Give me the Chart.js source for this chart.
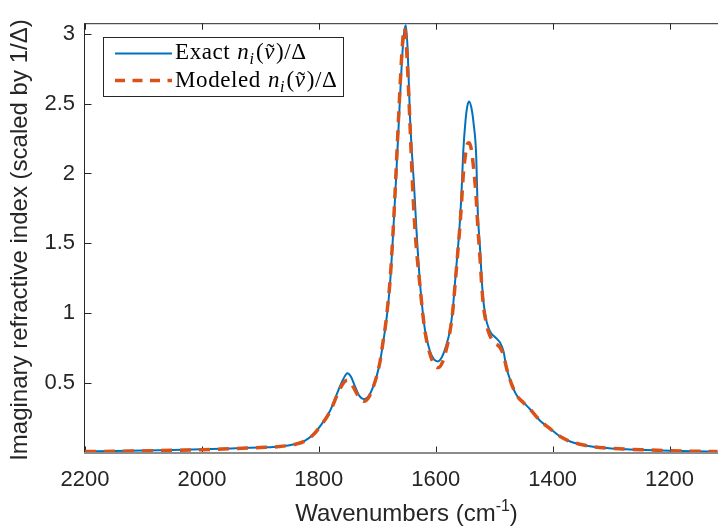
<!DOCTYPE html>
<html>
<head>
<meta charset="utf-8">
<script src="https://cdn.jsdelivr.net/npm/chart.js@4"></script>
<style>
  html, body { margin: 0; padding: 0; background: #fff; overflow: hidden; }
  #wrap { width: 718px; height: 531px; overflow: hidden; }
</style>
</head>
<body>
<div id="wrap"><canvas id="chart" width="740" height="531"></canvas></div>
<script>
// Wavenumbers (cm^-1)
const wavenumbers = [2200, 2150, 2100, 2050, 2000, 1950, 1900, 1867, 1840, 1825, 1810, 1798, 1781, 1767, 1758, 1751, 1745, 1737, 1730, 1723,
    1715, 1708, 1701, 1695, 1690, 1686, 1682, 1678, 1673, 1668, 1663, 1657, 1654, 1651, 1648, 1644, 1640, 1637, 1633, 1627,
    1622, 1618, 1610, 1603, 1596, 1589, 1582, 1576, 1571, 1567, 1563, 1560, 1556, 1553, 1549, 1546, 1543, 1539, 1535, 1531,
    1528, 1524, 1521, 1518, 1514, 1510, 1505, 1500, 1495, 1490, 1484, 1479, 1474, 1470, 1461, 1450, 1439, 1422, 1404, 1387,
    1370, 1353, 1331, 1300, 1273, 1240, 1200, 1160, 1118];

// Exact n_i / Delta
const exactValues = [0.012, 0.014, 0.017, 0.021, 0.026, 0.033, 0.040, 0.047, 0.065, 0.085, 0.13, 0.19, 0.30, 0.445, 0.53, 0.57, 0.545, 0.465, 0.405, 0.385,
    0.405, 0.465, 0.55, 0.66, 0.79, 0.90, 1.04, 1.22, 1.56, 1.95, 2.38, 2.86, 3.01, 3.06, 2.88, 2.40, 2.10, 1.91, 1.60, 1.22,
    1.00, 0.87, 0.73, 0.67, 0.655, 0.69, 0.77, 0.87, 1.02, 1.22, 1.42, 1.57, 1.85, 2.15, 2.38, 2.48, 2.515, 2.47, 2.35, 2.15,
    1.72, 1.45, 1.22, 1.07, 0.96, 0.90, 0.855, 0.835, 0.815, 0.79, 0.727, 0.61, 0.54, 0.49, 0.41, 0.362, 0.315, 0.233, 0.174, 0.118,
    0.082, 0.062, 0.044, 0.033, 0.026, 0.021, 0.016, 0.012, 0.009];

// Modeled n_i / Delta
const modeledValues = [0.010, 0.012, 0.015, 0.019, 0.024, 0.031, 0.039, 0.046, 0.063, 0.083, 0.128, 0.188, 0.295, 0.43, 0.50, 0.52, 0.50, 0.44, 0.39, 0.37,
    0.395, 0.46, 0.55, 0.66, 0.80, 0.91, 1.06, 1.24, 1.58, 2.00, 2.45, 2.92, 3.04, 2.97, 2.74, 2.35, 1.95, 1.70, 1.46, 1.20,
    0.99, 0.86, 0.71, 0.635, 0.61, 0.645, 0.74, 0.86, 1.01, 1.20, 1.40, 1.55, 1.78, 1.98, 2.14, 2.21, 2.22, 2.17, 2.03, 1.84,
    1.62, 1.38, 1.18, 1.04, 0.94, 0.87, 0.82, 0.79, 0.775, 0.755, 0.70, 0.61, 0.54, 0.49, 0.41, 0.36, 0.315, 0.235, 0.172, 0.118,
    0.083, 0.063, 0.045, 0.034, 0.027, 0.022, 0.017, 0.013, 0.010];

const xTickValues = [2200, 2000, 1800, 1600, 1400, 1200];
const yTickValues = [0.5, 1, 1.5, 2, 2.5, 3];

const BLUE = '#0072BD';
const ORANGE = '#D95319';
const AXIS = '#262626';

function toPoints(xs, ys) {
    return xs.map((x, i) => ({ x: x, y: ys[i] }));
}

// draws "label n_i(nu~)/Delta" in a LaTeX-like way
function drawMathLabel(ctx, label, x, y) {
    const size = 23;
    const roman = size + 'px "Liberation Serif", "Times New Roman", serif';
    const italic = 'italic ' + roman;
    ctx.save();
    ctx.fillStyle = '#000';
    ctx.textAlign = 'left';
    ctx.textBaseline = 'alphabetic';
    ctx.letterSpacing = '0.6px';

    ctx.font = roman;
    ctx.fillText(label, x, y);
    x += ctx.measureText(label).width + 7;

    ctx.font = italic;
    ctx.fillText('n', x, y);
    x += ctx.measureText('n').width;

    ctx.font = 'italic 16px "Liberation Serif", serif';
    ctx.fillText('i', x, y + 5);
    x += ctx.measureText('i').width + 1.5;

    ctx.font = roman;
    ctx.fillText('(', x, y);
    x += ctx.measureText('(').width;

    ctx.font = italic;
    const nuW = ctx.measureText('ν').width;
    ctx.fillText('ν', x, y);
    ctx.font = roman;
    const tW = ctx.measureText('˜').width;
    ctx.fillText('˜', x + (nuW - tW) / 2 + 1, y + 1);
    x += nuW + 1;

    ctx.fillText(')/Δ', x, y);
    ctx.restore();
}

const matlabFrame = {
    id: 'matlabFrame',
    beforeDatasetsDraw(chart) {
        const { ctx, chartArea: a, scales } = chart;
        const len = 6.5;
        ctx.save();
        ctx.strokeStyle = AXIS;
        ctx.lineWidth = 1;
        ctx.beginPath();
        xTickValues.forEach(v => {
            const px = Math.round(scales.x.getPixelForValue(v)) + 0.5;
            ctx.moveTo(px, a.bottom);
            ctx.lineTo(px, a.bottom - len);
            ctx.moveTo(px, a.top);
            ctx.lineTo(px, a.top + len);
        });
        yTickValues.forEach(v => {
            const py = Math.round(scales.y.getPixelForValue(v)) + 0.5;
            ctx.moveTo(a.left, py);
            ctx.lineTo(a.left + len, py);
            ctx.moveTo(a.right, py);
            ctx.lineTo(a.right - len, py);
        });
        ctx.stroke();
        ctx.restore();
    },
    afterDatasetsDraw(chart) {
        const { ctx, chartArea: a } = chart;
        ctx.save();

        // axes box
        ctx.strokeStyle = AXIS;
        ctx.lineWidth = 1;
        ctx.beginPath();
        ctx.moveTo(a.left - 0.5, a.top + 0.5);
        ctx.lineTo(a.right, a.top + 0.5);
        ctx.moveTo(a.left - 0.5, a.top);
        ctx.lineTo(a.left - 0.5, a.bottom);
        ctx.moveTo(a.right - 0.5, a.top);
        ctx.lineTo(a.right - 0.5, a.bottom);
        ctx.stroke();
        ctx.fillStyle = '#8c8c8c';
        ctx.fillRect(a.left - 1, a.bottom - 1, a.right - a.left + 1, 2);

        // legend
        ctx.fillStyle = '#fff';
        ctx.fillRect(103.5, 37.5, 240, 59);
        ctx.strokeStyle = AXIS;
        ctx.strokeRect(103.5, 37.5, 240, 59);

        ctx.strokeStyle = BLUE;
        ctx.lineWidth = 2;
        ctx.beginPath();
        ctx.moveTo(115, 53.5);
        ctx.lineTo(172, 53.5);
        ctx.stroke();

        ctx.strokeStyle = ORANGE;
        ctx.lineWidth = 3.5;
        ctx.setLineDash([10, 7.5]);
        ctx.beginPath();
        ctx.moveTo(115, 80.5);
        ctx.lineTo(172, 80.5);
        ctx.stroke();
        ctx.setLineDash([]);

        drawMathLabel(ctx, 'Exact', 175, 59);
        drawMathLabel(ctx, 'Modeled', 175, 87);

        // x axis title with superscript
        ctx.fillStyle = AXIS;
        ctx.textBaseline = 'alphabetic';
        ctx.textAlign = 'left';
        const big = '24px "Liberation Sans", Arial, sans-serif';
        const small = '16px "Liberation Sans", Arial, sans-serif';
        ctx.font = big;
        const w1 = ctx.measureText('Wavenumbers (cm').width;
        const w3 = ctx.measureText(')').width;
        ctx.font = small;
        const w2 = ctx.measureText('-1').width;
        let tx = (a.left + a.right) / 2 - (w1 + w2 + w3) / 2;
        const ty = 521;
        ctx.font = big;
        ctx.fillText('Wavenumbers (cm', tx, ty);
        tx += w1;
        ctx.font = small;
        ctx.fillText('-1', tx, ty - 10);
        tx += w2;
        ctx.font = big;
        ctx.fillText(')', tx, ty);

        // y axis title
        ctx.translate(27, (a.top + a.bottom) / 2 + 2);
        ctx.rotate(-Math.PI / 2);
        ctx.textAlign = 'center';
        ctx.font = '24px "Liberation Sans", Arial, sans-serif';
        ctx.fillText('Imaginary refractive index (scaled by 1/Δ)', 0, 0);

        ctx.restore();
    }
};

const ctx = document.getElementById('chart').getContext('2d');
new Chart(ctx, {
    type: 'line',
    data: {
        datasets: [
            {
                label: 'Exact n_i(ν̃)/Δ',
                data: toPoints(wavenumbers, exactValues),
                borderColor: BLUE,
                borderWidth: 2,
                pointRadius: 0,
                cubicInterpolationMode: 'monotone',
                fill: false,
                order: 2
            },
            {
                label: 'Modeled n_i(ν̃)/Δ',
                data: toPoints(wavenumbers, modeledValues),
                borderColor: ORANGE,
                borderWidth: 3.5,
                borderDash: [11, 8],
                pointRadius: 0,
                cubicInterpolationMode: 'monotone',
                fill: false,
                order: 1
            }
        ]
    },
    options: {
        responsive: false,
        animation: false,
        devicePixelRatio: 1,
        layout: { padding: { top: 17, right: 12, left: 0, bottom: 0 } },
        plugins: {
            legend: { display: false },
            tooltip: { enabled: false }
        },
        scales: {
            x: {
                type: 'linear',
                reverse: true,
                min: 1100,
                max: 2200,
                afterFit: function(scale) { scale.height = 78; },
                afterBuildTicks: function(scale) {
                    scale.ticks = xTickValues.map(v => ({ value: v }));
                },
                grid: { display: false, drawTicks: false },
                border: { display: false },
                ticks: {
                    padding: 14,
                    maxRotation: 0,
                    autoSkip: false,
                    color: AXIS,
                    font: { family: '"Liberation Sans", Arial, sans-serif', size: 22 },
                    callback: function(value) { return String(value); }
                }
            },
            y: {
                type: 'linear',
                min: 0,
                max: 3.075,
                afterFit: function(scale) { scale.width = 85; },
                afterBuildTicks: function(scale) {
                    scale.ticks = yTickValues.map(v => ({ value: v }));
                },
                grid: { display: false, drawTicks: false },
                border: { display: false },
                ticks: {
                    padding: 10,
                    color: AXIS,
                    font: { family: '"Liberation Sans", Arial, sans-serif', size: 22 },
                    callback: function(value) { return String(value); }
                }
            }
        }
    },
    plugins: [matlabFrame]
});
</script>
</body>
</html>
